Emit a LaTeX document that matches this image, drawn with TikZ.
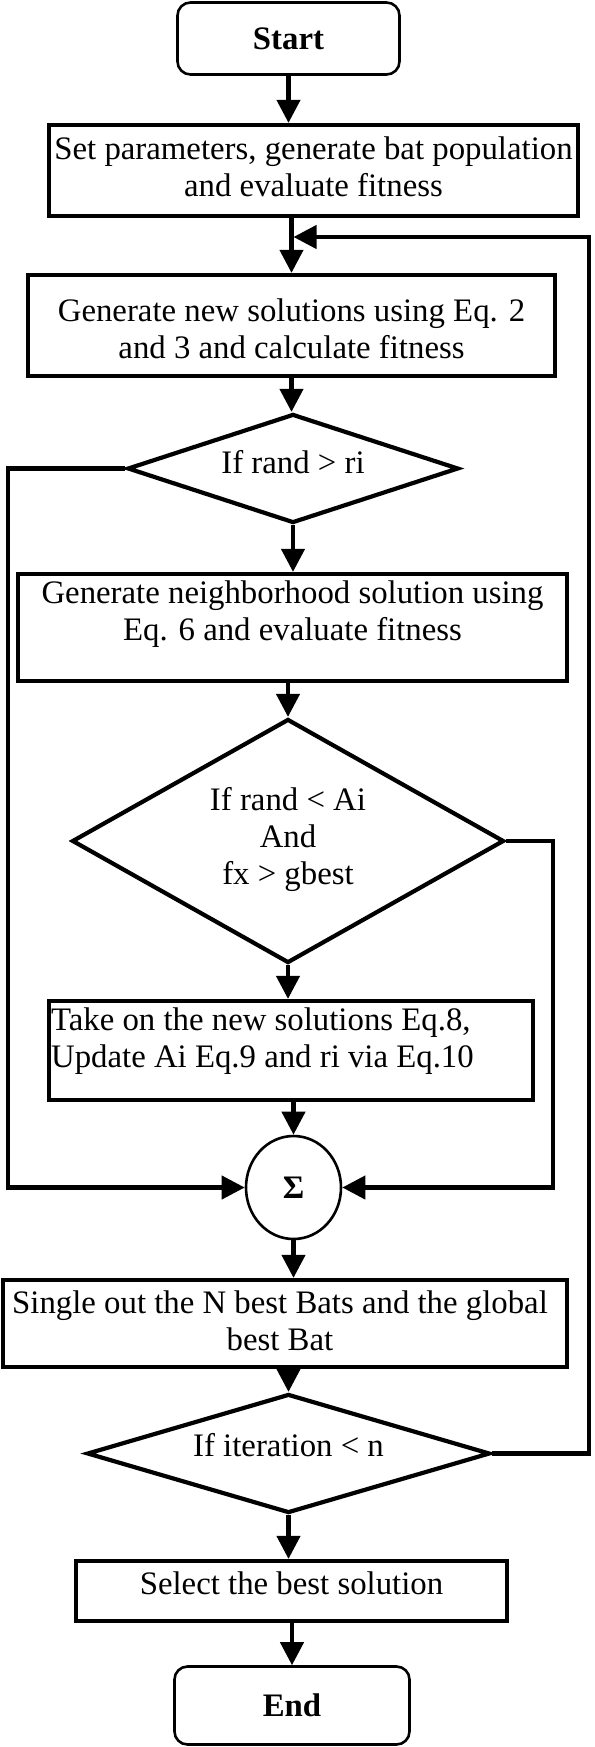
\documentclass[tikz,border=0pt]{standalone}
\usepackage{fontspec}
\setmainfont{Liberation Serif}
\usetikzlibrary{shapes.geometric,arrows.meta}
\begin{document}
\begin{tikzpicture}[x=1pt,y=-1pt, font=\fontsize{32.8pt}{37pt}\selectfont,
 boxnode/.style={draw, line width=4.2pt, rectangle, inner sep=0pt},
 termnode/.style={draw, line width=2.6pt, rectangle, rounded corners=13pt, inner sep=0pt, font=\fontsize{32.8pt}{37pt}\selectfont\bfseries},
 decnode/.style={draw, line width=4.2pt, diamond, inner sep=0pt},
 sumnode/.style={draw, line width=2.6pt, ellipse, inner sep=0pt, font=\fontsize{32.8pt}{37pt}\selectfont\bfseries},
 conn/.style={line width=4.2pt, -{Triangle[length=23pt,width=23pt]}},
 txt/.style={align=center, inner sep=0pt},
 ltxt/.style={align=left, inner sep=0pt}]
\useasboundingbox (0,0) rectangle (594,1747);

\node[termnode, minimum width=222pt, minimum height=72pt] (start) at (288.5,38.5) {Start};
\node[boxnode, minimum width=529pt, minimum height=91pt,
  label={[txt, yshift=4pt]center:{Set parameters, generate bat population\\and evaluate fitness}}] (b1) at (313.5,170.5) {};
\node[boxnode, minimum width=527pt, minimum height=101pt,
  label={[txt, yshift=-3pt]center:{Generate new solutions using Eq. 2\\and 3 and calculate fitness}}] (b2) at (291.5,325.5) {};
\node[decnode, minimum width=331pt, minimum height=109pt,
  label={[txt, yshift=6pt]center:{If rand > ri}}] (d1) at (293,468.5) {};
\node[boxnode, minimum width=549pt, minimum height=107pt,
  label={[txt, yshift=13pt]center:{Generate neighborhood solution using\\Eq. 6 and evaluate fitness}}] (b3) at (292.5,627.5) {};
\node[decnode, minimum width=432pt, minimum height=244pt,
  label={[txt, yshift=2pt]center:{If rand < Ai\\And\\fx > gbest}}] (d2) at (288,841) {};
\node[boxnode, minimum width=484pt, minimum height=99pt,
  label={[ltxt, anchor=west, xshift=4pt, yshift=9pt]west:{Take on the new solutions Eq.8,\\Update Ai Eq.9 and ri via Eq.10}}] (b4) at (291,1050.5) {};
\node[sumnode, minimum width=95pt, minimum height=103pt] (sig) at (293.5,1187.5) {Σ};
\node[boxnode, minimum width=564pt, minimum height=87pt,
  label={[txt, xshift=-5pt, yshift=3pt]center:{Single out the N best Bats and the global\\best Bat}}] (b5) at (285,1323.5) {};
\node[decnode, minimum width=403pt, minimum height=119pt,
  label={[txt, yshift=8pt]center:{If iteration < n}}] (d3) at (288.5,1453.5) {};
\node[boxnode, minimum width=431pt, minimum height=60pt,
  label={[txt, yshift=8pt]center:{Select the best solution}}] (b6) at (291.5,1591) {};
\node[termnode, minimum width=235pt, minimum height=78pt] (end) at (292,1705.5) {End};

\coordinate (lx) at (8,0);
\coordinate (rx) at (553,0);
\coordinate (loopx) at (589,0);
\coordinate (join) at (293.5,237);

\draw[conn] (start.south) -- (start.south |- b1.north);
\draw[conn] (b1.south -| b2.north) -- (b2.north);
\draw[conn] (b2.south) -- (b2.south |- d1.north);
\draw[conn] (d1.south) -- (d1.south |- b3.north);
\draw[conn] (b3.south -| d2.north) -- (d2.north);
\draw[conn] (d2.south) -- (d2.south |- b4.north);
\draw[conn] (b4.south -| sig.north) -- (sig.north);
\draw[conn] (sig.south) -- (sig.south |- b5.north);
\draw[conn] (b5.south -| d3.north) -- (d3.north);
\draw[conn] (d3.south) -- (d3.south |- b6.north);
\draw[conn] (b6.south -| end.north) -- (end.north);

\draw[conn] (d1.west) -- (d1.west -| lx) |- (sig.west);
\draw[conn] (d2.east) -- (d2.east -| rx) |- (sig.east);
\draw[conn] (d3.east) -- (d3.east -| loopx) |- (join);
\end{tikzpicture}
\end{document}
